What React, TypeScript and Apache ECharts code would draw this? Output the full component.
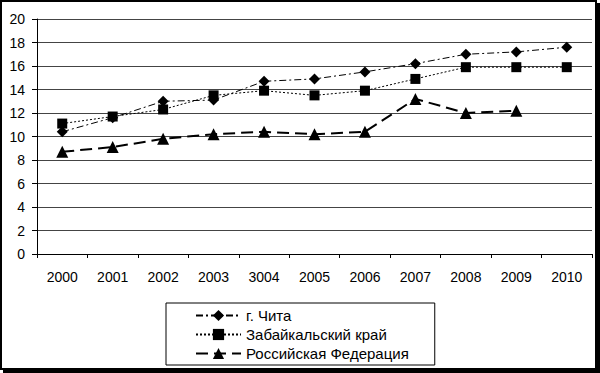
import React, { useEffect, useRef } from "react";
import * as echarts from "echarts";

const years = ["2000", "2001", "2002", "2003", "3004", "2005", "2006", "2007", "2008", "2009", "2010"];
const chita = [10.4, 11.6, 13.0, 13.1, 14.7, 14.9, 15.5, 16.2, 17.0, 17.2, 17.6];
const zabaikal = [11.1, 11.7, 12.3, 13.5, 13.9, 13.5, 13.9, 14.9, 15.9, 15.9, 15.9];
const russia = [8.7, 9.1, 9.8, 10.2, 10.4, 10.2, 10.4, 13.2, 12.0, 12.2, null];
const seriesNames = ["г. Чита", "Забайкальский край", "Российская Федерация"];

export default function App() {
  const ref = useRef<HTMLDivElement>(null);
  useEffect(() => {
    if (!ref.current) return;
    const chart = echarts.init(ref.current, null, { renderer: "svg" });
    const font = "Liberation Sans, Arial, sans-serif";
    chart.setOption({
      animation: false,
      backgroundColor: "#fff",
      textStyle: { fontFamily: font },
      grid: { left: 37, right: 8, top: 19, bottom: 119 },
      xAxis: {
        type: "category",
        data: years,
        boundaryGap: true,
        axisLine: { lineStyle: { color: "#000", width: 1 } },
        axisTick: { show: true, length: 4, lineStyle: { color: "#000" } },
        axisLabel: { color: "#000", fontSize: 14, margin: 16, fontFamily: font },
      },
      yAxis: {
        type: "value",
        min: 0,
        max: 20,
        interval: 2,
        axisLine: { show: true, lineStyle: { color: "#000", width: 1 } },
        axisTick: { show: true, length: 5, lineStyle: { color: "#000" } },
        axisLabel: { color: "#000", fontSize: 14, margin: 12, fontFamily: font },
        splitLine: { show: true, lineStyle: { color: "#444", width: 1 } },
      },
      legend: {
        left: 166,
        top: 303,
        orient: "vertical",
        align: "left",
        padding: [4, 26, 3, 29],
        itemGap: 2,
        itemWidth: 45,
        itemHeight: 14,
        borderColor: "#000",
        borderWidth: 1,
        backgroundColor: "#fff",
        textStyle: { color: "#000", fontSize: 15, lineHeight: 17, fontFamily: font },
        data: seriesNames,
      },
      series: [
        {
          name: seriesNames[0],
          type: "line",
          data: chita,
          symbol: "diamond",
          symbolSize: 11,
          itemStyle: { color: "#000" },
          lineStyle: { color: "#000", width: 1, type: [7, 3, 2, 3] },
        },
        {
          name: seriesNames[1],
          type: "line",
          data: zabaikal,
          symbol: "rect",
          symbolSize: 10,
          itemStyle: { color: "#000" },
          lineStyle: { color: "#000", width: 1, type: [2, 2] },
        },
        {
          name: seriesNames[2],
          type: "line",
          data: russia,
          symbol: "triangle",
          symbolSize: 12,
          itemStyle: { color: "#000" },
          lineStyle: { color: "#000", width: 2, type: [12, 6] },
        },
      ],
      graphic: [
        { type: "rect", shape: { x: 1, y: 1, width: 595, height: 368 }, style: { fill: "none", stroke: "#000", lineWidth: 2 }, silent: true },
        { type: "rect", shape: { x: 596, y: 3, width: 4, height: 370 }, style: { fill: "#000" }, silent: true },
        { type: "rect", shape: { x: 3, y: 368, width: 597, height: 5 }, style: { fill: "#000" }, silent: true },
      ],
    });
    return () => chart.dispose();
  }, []);
  return (
    <div style={{ position: "absolute", left: 0, top: 0 }}>
      <div ref={ref} style={{ width: 600, height: 373 }} />
    </div>
  );
}
